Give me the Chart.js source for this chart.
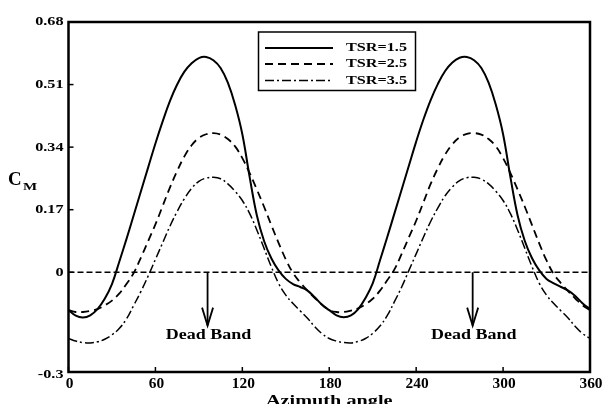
<!DOCTYPE html>
<html><head><meta charset="utf-8">
<script src="https://cdn.jsdelivr.net/npm/chart.js@4.4.0/dist/chart.umd.min.js"></script>
<style>html,body{margin:0;padding:0;background:#fff;overflow:hidden}</style>
</head><body>
<canvas id="c" width="603" height="404" style="display:block;width:603px;height:404px"></canvas>
<script>
// ---- data ----
const angles = [0,5,10,15,20,25,30,35,40,45,50,55,60,65,70,75,80,85,90,95,100,105,110,115,120,125,130,135,140,145,150,155,160,165,170,175,180,
  185,190,195,200,205,210,215,220,225,230,235,240,245,250,255,260,265,270,275,280,285,290,295,300,305,310,315,320,325,330,335,340,345,350,355,360];
const tsr15 = [-0.103,-0.118,-0.123,-0.117,-0.1,-0.072,-0.032,0.028,0.09,0.155,0.22,0.285,0.35,0.41,0.465,0.51,0.545,0.568,0.582,0.585,0.576,0.555,0.515,0.455,0.375,0.26,0.155,0.085,0.038,0.005,-0.018,-0.032,-0.04,-0.05,-0.068,-0.088,-0.103,
  -0.117,-0.122,-0.117,-0.1,-0.07,-0.03,0.032,0.095,0.16,0.225,0.29,0.355,0.415,0.468,0.512,0.547,0.57,0.583,0.585,0.576,0.555,0.515,0.455,0.375,0.26,0.155,0.085,0.038,0.005,-0.018,-0.03,-0.04,-0.05,-0.065,-0.085,-0.1];
const tsr25 = [-0.103,-0.108,-0.108,-0.105,-0.1,-0.09,-0.077,-0.058,-0.032,-0.002,0.04,0.085,0.13,0.18,0.23,0.275,0.315,0.345,0.365,0.375,0.378,0.374,0.362,0.342,0.31,0.27,0.225,0.178,0.128,0.08,0.035,-0.002,-0.028,-0.05,-0.07,-0.088,-0.103,
  -0.108,-0.108,-0.104,-0.098,-0.087,-0.072,-0.05,-0.022,0.008,0.05,0.095,0.14,0.19,0.24,0.283,0.32,0.348,0.367,0.376,0.378,0.374,0.362,0.342,0.31,0.27,0.225,0.178,0.128,0.078,0.032,-0.005,-0.03,-0.052,-0.072,-0.09,-0.103];
const tsr35 = [-0.18,-0.187,-0.191,-0.192,-0.189,-0.182,-0.17,-0.153,-0.127,-0.09,-0.052,-0.01,0.035,0.08,0.125,0.165,0.2,0.228,0.247,0.256,0.258,0.254,0.24,0.22,0.195,0.16,0.115,0.065,0.015,-0.03,-0.062,-0.085,-0.105,-0.125,-0.148,-0.167,-0.18,
  -0.187,-0.191,-0.192,-0.188,-0.18,-0.166,-0.146,-0.118,-0.08,-0.04,0.005,0.05,0.095,0.138,0.175,0.208,0.232,0.249,0.257,0.258,0.253,0.24,0.22,0.195,0.16,0.115,0.065,0.015,-0.03,-0.062,-0.085,-0.105,-0.125,-0.148,-0.167,-0.18];
const seriesLabels = ['TSR=1.5','TSR=2.5','TSR=3.5'];
const xTickValues = [0,60,120,180,240,300,360];
const xTickLabels = ['0','60','120','180','240','300','360'];
const yBottom = -0.271;
const yTickValues = [yBottom,0,0.17,0.34,0.51,0.68];
const yTickLabels = ['-0.3','0','0.17','0.34','0.51','0.68'];
const deadBandAngles = [96,279];
const deadBandTip = -0.145;
const deadBandTextValue = -0.172;
const deadBandText = 'Dead Band';
const xTitle = 'Azimuth angle';
const yTitleMain = 'C';
const yTitleSub = 'M';

// ---- styles ----
const FONT = '"Liberation Serif","Times New Roman",serif';
const styles = [
  {borderDash:[], borderWidth:2},
  {borderDash:[8,5], borderWidth:1.8},
  {borderDash:[9,3,2,3], borderWidth:1.5}
];
function txt(ctx, s, x, y, size, sx, align){
  ctx.save();
  ctx.font = 'bold ' + size + 'px ' + FONT;
  ctx.fillStyle = '#000';
  ctx.textBaseline = 'middle';
  ctx.textAlign = align;
  ctx.translate(x, y);
  ctx.scale(sx, 1);
  ctx.fillText(s, 0, 0);
  ctx.restore();
}
const deco = {
  id:'deco',
  afterDatasetsDraw(chart){
    const ctx = chart.ctx, a = chart.chartArea, xs = chart.scales.x, ys = chart.scales.y;
    ctx.save();
    ctx.strokeStyle = '#000'; ctx.setLineDash([]);
    ctx.lineWidth = 1.5;
    xTickValues.forEach(v => { const px = xs.getPixelForValue(v); ctx.beginPath(); ctx.moveTo(px, a.bottom); ctx.lineTo(px, a.bottom - 5); ctx.stroke(); });
    yTickValues.forEach(v => { const py = ys.getPixelForValue(v); ctx.beginPath(); ctx.moveTo(a.left, py); ctx.lineTo(a.left + 5, py); ctx.stroke(); });
    ctx.lineWidth = 2.5;
    ctx.strokeRect(a.left, a.top, a.right - a.left, a.bottom - a.top);
    xTickValues.forEach((v,i) => txt(ctx, xTickLabels[i], xs.getPixelForValue(v) + 1, a.bottom + 12, 14, 1.1, 'center'));
    yTickValues.forEach((v,i) => txt(ctx, yTickLabels[i], a.left - 5, ys.getPixelForValue(v) + (i===0 ? 3 : 0), 13.5, 1.2, 'right'));
    txt(ctx, xTitle, (a.left + a.right) / 2, a.bottom + 29, 15, 1.35, 'center');
    txt(ctx, yTitleMain, 8, 180, 18, 1.05, 'left');
    txt(ctx, yTitleSub, 23, 187, 10, 1.5, 'left');
    ctx.lineWidth = 1.5;
    ctx.strokeRect(258.5, 32, 157, 58.5);
    const ly = [48, 64, 80.5];
    seriesLabels.forEach((s,i) => {
      ctx.lineWidth = styles[i].borderWidth;
      ctx.setLineDash(styles[i].borderDash);
      ctx.beginPath(); ctx.moveTo(265, ly[i]); ctx.lineTo(333, ly[i]); ctx.stroke();
      ctx.setLineDash([]);
      txt(ctx, s, 346, ly[i], 12, 1.35, 'left');
    });
    ctx.lineWidth = 1.8;
    deadBandAngles.forEach(d => {
      const px = xs.getPixelForValue(d), y0 = ys.getPixelForValue(0), y1 = ys.getPixelForValue(deadBandTip);
      ctx.beginPath(); ctx.moveTo(px, y0); ctx.lineTo(px, y1); ctx.stroke();
      ctx.beginPath(); ctx.moveTo(px - 5.5, y1 - 18); ctx.lineTo(px, y1); ctx.lineTo(px + 5.5, y1 - 18); ctx.stroke();
      txt(ctx, deadBandText, px + 1, ys.getPixelForValue(deadBandTextValue), 15, 1.2, 'center');
    });
    ctx.restore();
  }
};
const datasets = [tsr15, tsr25, tsr35].map((arr,i) => ({
  label: seriesLabels[i],
  data: angles.map((a,j) => ({x:a, y:arr[j]})),
  borderColor:'#000', borderWidth: styles[i].borderWidth, borderDash: styles[i].borderDash,
  pointRadius:0, tension:0.4, fill:false
}));
datasets.push({label:'zero', data:[{x:xTickValues[0],y:0},{x:xTickValues[xTickValues.length-1],y:0}],
  borderColor:'#000', borderWidth:1.5, borderDash:[6,3], pointRadius:0});
new Chart(document.getElementById('c'), {
  type:'line',
  data:{datasets},
  options:{
    responsive:false, animation:false,
    layout:{padding:{left:0,right:13,top:22,bottom:0}},
    plugins:{legend:{display:false}, tooltip:{enabled:false}},
    scales:{
      x:{type:'linear', min:0, max:360, ticks:{display:false}, grid:{display:false}, border:{display:false}, afterFit(s){s.height=32;}},
      y:{type:'linear', min:yBottom, max:0.68, ticks:{display:false}, grid:{display:false}, border:{display:false}, afterFit(s){s.width=68.5;}}
    }
  },
  plugins:[deco]
});
</script>
</body></html>
